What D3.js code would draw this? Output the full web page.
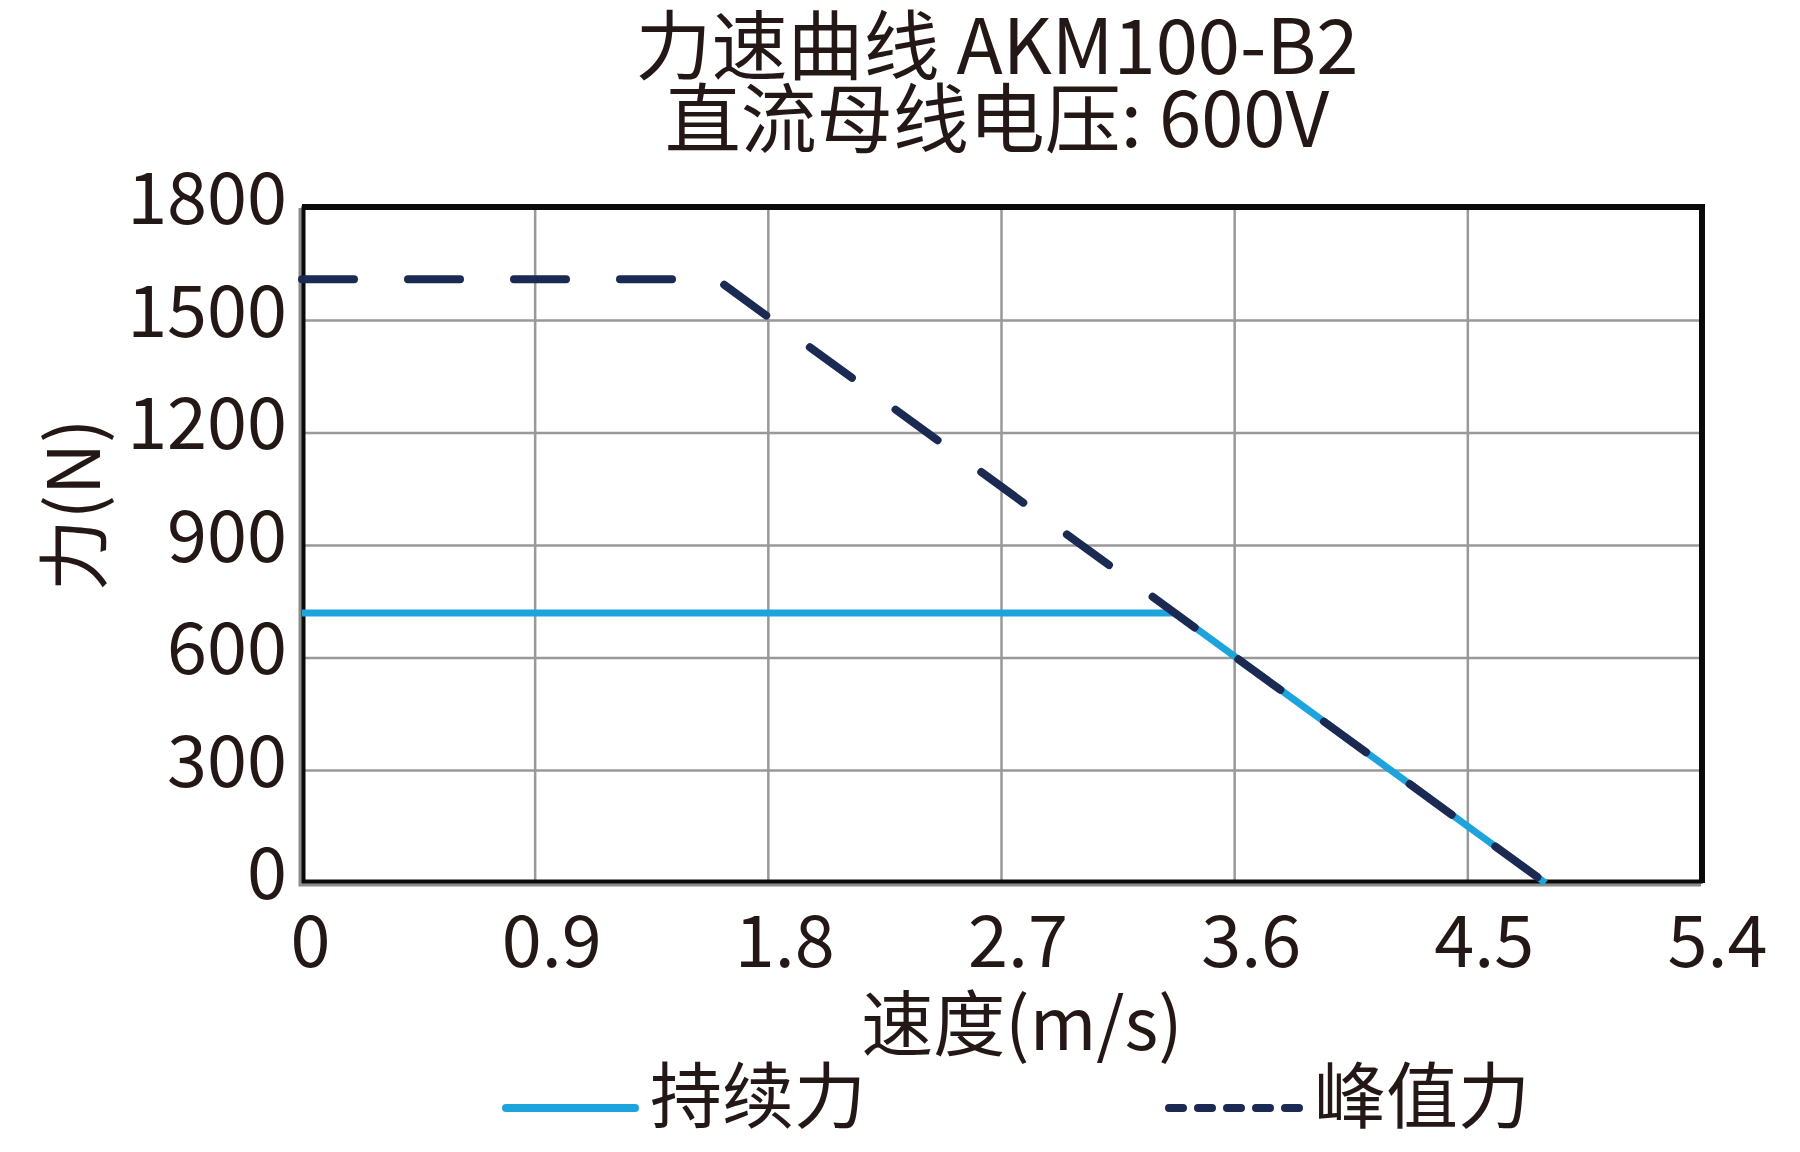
<!DOCTYPE html>
<html>
<head>
<meta charset="utf-8">
<script src="https://cdn.jsdelivr.net/npm/d3@7"></script>
<style>
  body { margin: 0; background: #fff; }
  text { font-family: "Noto Sans CJK SC", "Noto Sans", sans-serif; fill: #231815; }
</style>
</head>
<body>
<svg id="chart" width="1800" height="1152"></svg>
<script>
// data
const speedTicks = [0, 0.9, 1.8, 2.7, 3.6, 4.5, 5.4];
const forceTicks = [0, 300, 600, 900, 1200, 1500, 1800];
const continuousSpeed = [0, 3.37, 4.8];
const continuousForce = [720, 720, 0];
const peakSpeed = [0, 1.6, 4.8];
const peakForce = [1610, 1610, 0];
const titleLines = ['力速曲线 AKM100-B2', '直流母线电压: 600V'];
const seriesNames = ['持续力', '峰值力'];

const svg = d3.select('#chart');
const margin = { top: 208, right: 99, bottom: 269, left: 302 };
const width = 1800 - margin.left - margin.right;
const height = 1152 - margin.top - margin.bottom;

const x = d3.scaleLinear().domain([0, 5.4]).range([0, width]);
const y = d3.scaleLinear().domain([0, 1800]).range([height, 0]);

const g = svg.append('g').attr('transform', `translate(${margin.left},${margin.top})`);

// grid
g.append('g')
  .selectAll('line')
  .data(speedTicks)
  .enter()
  .append('line')
  .attr('x1', (d) => x(d))
  .attr('x2', (d) => x(d))
  .attr('y1', 0)
  .attr('y2', height)
  .attr('stroke', '#999')
  .attr('stroke-width', 2.5);

g.append('g')
  .selectAll('line')
  .data(forceTicks)
  .enter()
  .append('line')
  .attr('x1', 0)
  .attr('x2', width)
  .attr('y1', (d) => y(d))
  .attr('y2', (d) => y(d))
  .attr('stroke', '#999')
  .attr('stroke-width', 2.5);

// grey outer lines on left / bottom, then the black frame
g.append('path')
  .attr('d', `M-2,0V${height + 2}H${width}`)
  .attr('fill', 'none')
  .attr('stroke', '#8c8c8c')
  .attr('stroke-width', 3);
g.append('rect')
  .attr('x', 1.5)
  .attr('y', 0)
  .attr('width', width - 1.5)
  .attr('height', height - 1.5)
  .attr('fill', 'none')
  .attr('stroke', '#0a0a0a')
  .attr('stroke-width', 4);
g.append('path')
  .attr('d', `M0,-1H${width + 1}V${height}`)
  .attr('fill', 'none')
  .attr('stroke', '#0a0a0a')
  .attr('stroke-width', 6);

// tick labels via d3 axes, domain/ticks hidden
const xAxis = g.append('g')
  .attr('transform', `translate(0,${height})`)
  .call(d3.axisBottom(x).tickValues(speedTicks).tickFormat((d) => String(d)).tickSize(0));
xAxis.select('.domain').remove();
xAxis.selectAll('text')
  .attr('y', 0)
  .attr('dy', 0)
  .attr('transform', (d) => `translate(${4 + 4 * String(d).length},84)`)
  .style('font-size', '72px')
  .attr('fill', '#231815');

const yAxis = g.append('g')
  .call(d3.axisLeft(y).tickValues(forceTicks).tickFormat(d3.format('d')).tickSize(0));
yAxis.select('.domain').remove();
yAxis.selectAll('text')
  .attr('x', -15)
  .attr('dy', 0)
  .attr('transform', 'translate(0,15.5)')
  .style('font-size', '72px')
  .attr('fill', '#231815');

// series
const line = d3.line().x((d) => x(d[0])).y((d) => y(d[1]));
const continuous = continuousSpeed.map((s, i) => [s, continuousForce[i]]);
const peak = peakSpeed.map((s, i) => [s, peakForce[i]]);

g.append('path')
  .datum(continuous)
  .attr('d', line)
  .attr('fill', 'none')
  .attr('stroke', '#1ea4dd')
  .attr('stroke-width', 7);

g.append('path')
  .datum(peak)
  .attr('d', line)
  .attr('fill', 'none')
  .attr('stroke', '#1b2a52')
  .attr('stroke-width', 8)
  .attr('stroke-linecap', 'round')
  .attr('stroke-dasharray', '52,54');

// titles
svg.append('g')
  .selectAll('text')
  .data(titleLines)
  .enter()
  .append('text')
  .attr('x', 997)
  .attr('y', (d, i) => 74 + i * 73)
  .attr('text-anchor', 'middle')
  .style('font-size', '76px')
  .text((d) => d);

svg.append('text')
  .attr('x', 1022)
  .attr('y', 1050)
  .attr('text-anchor', 'middle')
  .style('font-size', '72px')
  .text('速度(m/s)');

svg.append('text')
  .attr('transform', 'translate(100,505) rotate(-90)')
  .attr('text-anchor', 'middle')
  .style('font-size', '72px')
  .text('力(N)');

// legend
const legend = svg.append('g');
legend.append('line')
  .attr('x1', 506).attr('x2', 635)
  .attr('y1', 1108).attr('y2', 1108)
  .attr('stroke', '#1ea4dd')
  .attr('stroke-width', 8)
  .attr('stroke-linecap', 'round');
legend.append('text')
  .attr('x', 650).attr('y', 1122)
  .style('font-size', '72px')
  .text(seriesNames[0]);
legend.append('line')
  .attr('x1', 1169).attr('x2', 1299)
  .attr('y1', 1108).attr('y2', 1108)
  .attr('stroke', '#1b2a52')
  .attr('stroke-width', 8)
  .attr('stroke-linecap', 'round')
  .attr('stroke-dasharray', '14,15');
legend.append('text')
  .attr('x', 1314).attr('y', 1122)
  .style('font-size', '72px')
  .text(seriesNames[1]);
</script>
</body>
</html>
